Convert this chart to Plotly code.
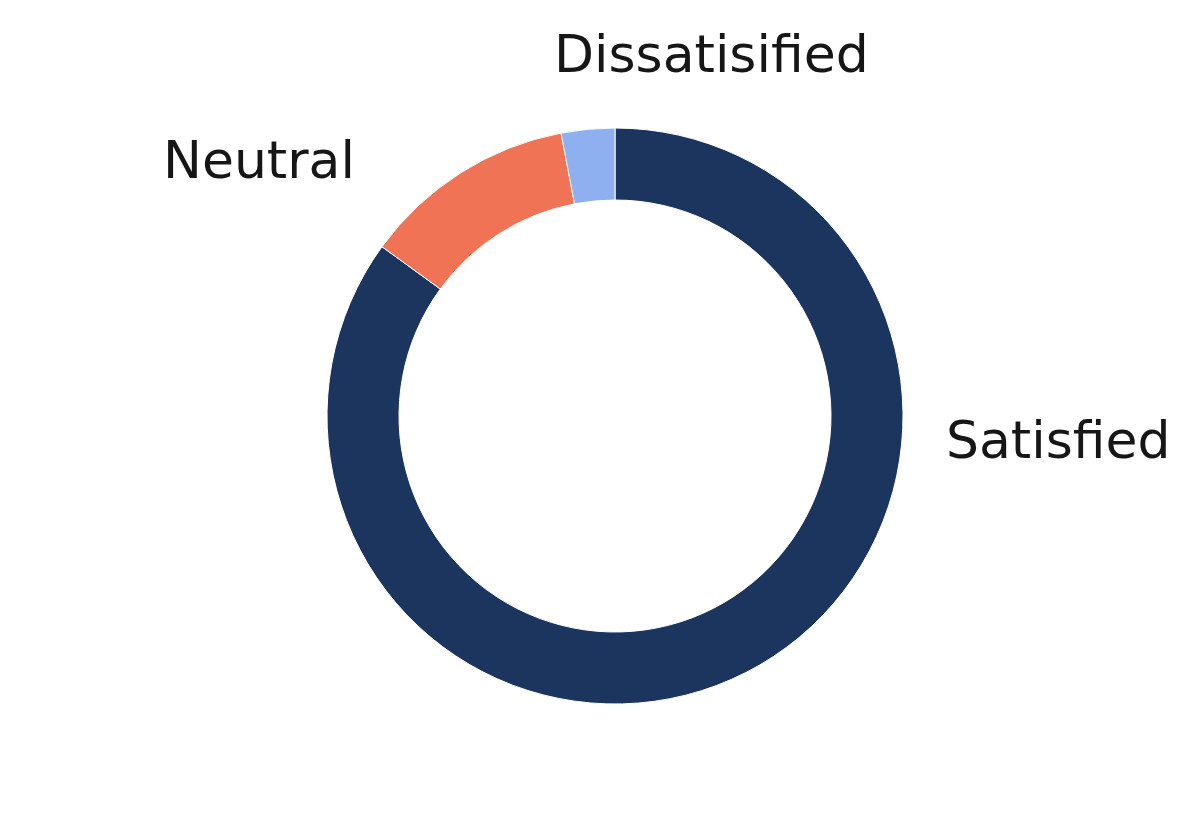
import plotly.graph_objects as go

labels = ["Satisfied", "Neutral", "Dissatisified"]
values = [85, 12, 3]
colors = ["#1c355e", "#f07355", "#8fb0f0"]

W, H = 1200, 840
# label anchor positions (pixels) for the outside labels
label_px = {"Satisfied": (1050, 432), "Neutral": (251, 152), "Dissatisified": (703, 46)}

cx, cy, r = 607, 408, 288
fig = go.Figure(go.Pie(
    labels=labels, values=values, hole=0.75, sort=False,
    direction="clockwise", rotation=0,
    marker=dict(colors=colors, line=dict(color="white", width=1)),
    textinfo="none", hoverinfo="label+value",
    domain=dict(x=[(cx - r) / W, (cx + r) / W], y=[1 - (cy + r) / H, 1 - (cy - r) / H]),
))

for lab in labels:
    px, py = label_px[lab]
    fig.add_annotation(x=px / W, y=1 - py / H, xref="paper", yref="paper",
                       text=lab, showarrow=False, xanchor="center", yanchor="middle",
                       font=dict(family="DejaVu Sans", size=52, color="#161616"))

fig.update_layout(width=W, height=H, margin=dict(l=0, r=0, t=0, b=0),
                  showlegend=False, paper_bgcolor="white", plot_bgcolor="white")
fig.write_html("out.html")
